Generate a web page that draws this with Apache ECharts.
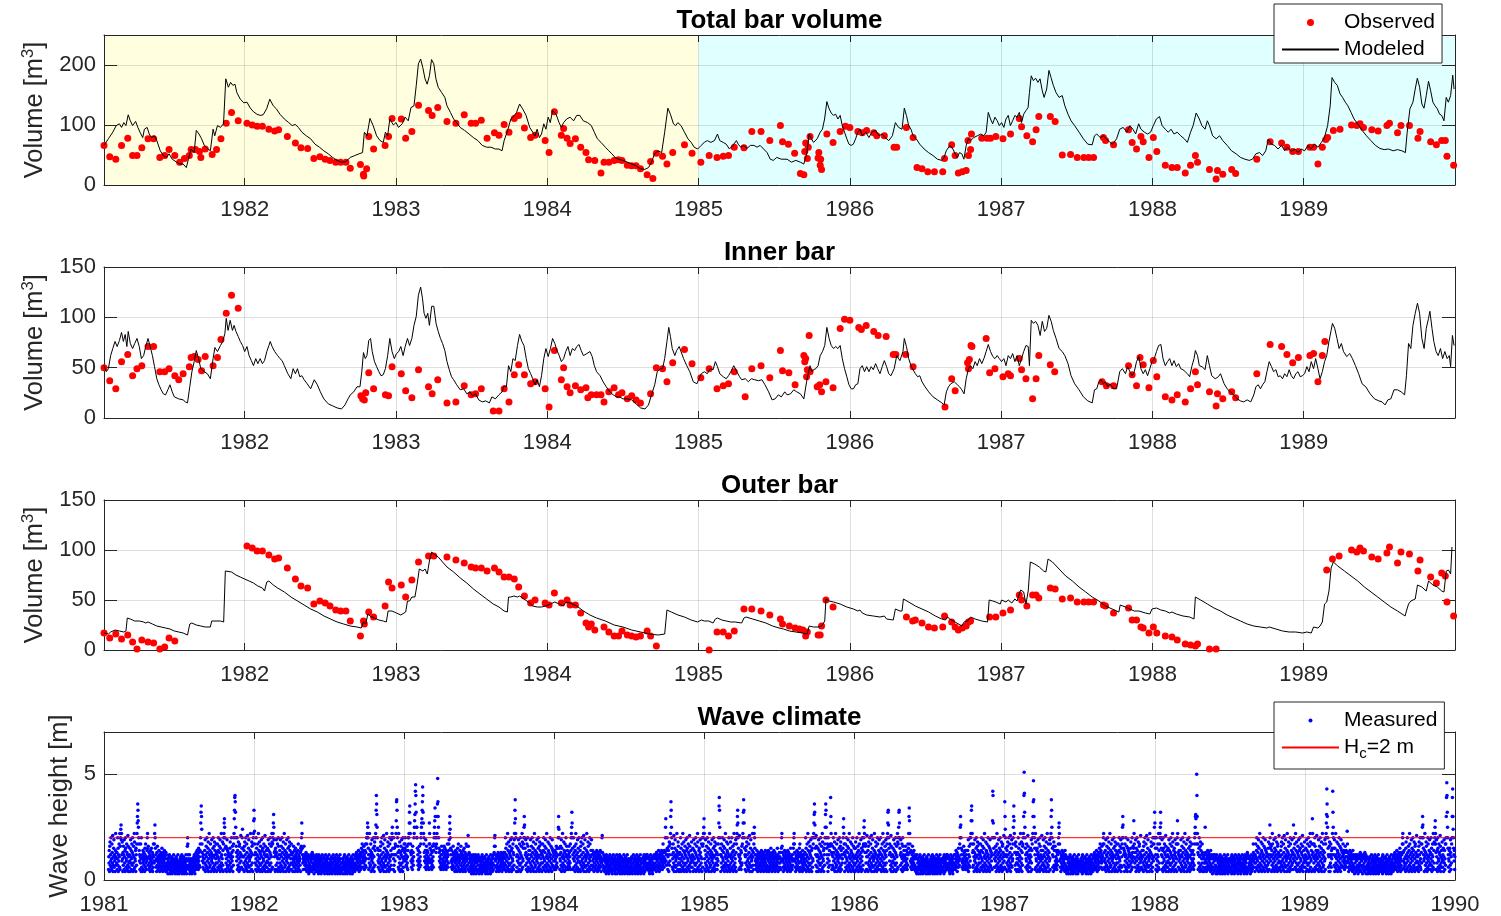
<!DOCTYPE html>
<html>
<head>
<meta charset="utf-8">
<title>Bar volumes and wave climate 1981-1990</title>
<script src="https://cdn.jsdelivr.net/npm/echarts@6/dist/echarts.min.js"></script>
<style>
html,body{margin:0;padding:0;background:#fff}
#chart{width:1501px;height:916px}
</style>
</head>
<body>
<div id="chart"></div>
<script>
// ---------- time axis ticks ----------
const barYearTicks = [1982, 1983, 1984, 1985, 1986, 1987, 1988, 1989];
const waveYearTicks = [1981, 1982, 1983, 1984, 1985, 1986, 1987, 1988, 1989, 1990];
const volumeTicks250 = [0, 100, 200];
const volumeTicks150 = [0, 50, 100, 150];
const waveTicks = [0, 5];
const criticalHeight = 2;

// ---------- total bar volume [year, m3] ----------
const totalObserved = [
[1981.070,66],[1981.108,47],[1981.148,43],[1981.186,66],[1981.227,78],[1981.259,49],[1981.288,49],[1981.320,62],[1981.361,77],[1981.398,77],
[1981.439,46],[1981.471,49],[1981.500,59],[1981.538,49],[1981.570,38],[1981.602,44],[1981.634,49],[1981.646,59],[1981.675,59],[1981.701,56],
[1981.710,46],[1981.739,60],[1981.785,51],[1981.814,59],[1981.843,77],[1981.878,103],[1981.913,121],[1981.957,107],[1982.015,103],[1982.050,100],
[1982.082,98],[1982.117,98],[1982.160,93],[1982.198,90],[1982.224,92],[1982.282,81],[1982.335,70],[1982.372,62],[1982.416,61],[1982.457,44],
[1982.497,47],[1982.532,43],[1982.564,41],[1982.602,38],[1982.634,38],[1982.669,38],[1982.698,28],[1982.765,34],[1982.785,18],[1982.787,15],
[1982.806,27],[1982.820,81],[1982.852,60],[1982.928,66],[1982.951,81],[1982.974,111],[1983.035,110],[1983.064,78],[1983.105,89],[1983.149,133],
[1983.215,124],[1983.239,116],[1983.276,129],[1983.337,106],[1983.396,103],[1983.451,117],[1983.497,103],[1983.526,103],[1983.564,108],[1983.602,78],
[1983.651,87],[1983.681,83],[1983.715,101],[1983.747,88],[1983.782,111],[1983.811,116],[1983.849,95],[1983.890,79],[1983.919,83],[1983.986,74],
[1984.012,54],[1984.047,122],[1984.093,83],[1984.108,94],[1984.131,78],[1984.151,69],[1984.186,77],[1984.221,63],[1984.256,54],[1984.273,42],
[1984.314,41],[1984.355,20],[1984.375,38],[1984.407,38],[1984.442,41],[1984.471,42],[1984.494,41],[1984.529,33],[1984.558,32],[1984.587,32],
[1984.616,27],[1984.660,17],[1984.683,39],[1984.698,11],[1984.721,53],[1984.762,48],[1984.791,35],[1984.829,54],[1984.907,67],[1984.957,53],
[1985.015,38],[1985.070,49],[1985.122,46],[1985.163,48],[1985.198,49],[1985.236,63],[1985.300,62],[1985.352,89],[1985.413,89],[1985.471,74],
[1985.541,99],[1985.555,72],[1985.594,68],[1985.635,53],[1985.673,19],[1985.696,17],[1985.702,56],[1985.708,70],[1985.719,44],[1985.725,63],
[1985.737,81],[1985.790,45],[1985.795,54],[1985.804,33],[1985.807,43],[1985.813,26],[1985.848,85],[1985.889,71],[1985.936,89],[1985.971,98],
[1986.000,96],[1986.053,89],[1986.082,87],[1986.111,91],[1986.158,87],[1986.178,82],[1986.228,82],[1986.292,63],[1986.310,63],[1986.374,96],
[1986.418,79],[1986.444,29],[1986.477,27],[1986.515,22],[1986.559,22],[1986.614,22],[1986.626,44],[1986.673,67],[1986.696,49],[1986.717,20],
[1986.743,22],[1986.769,24],[1986.781,74],[1986.784,49],[1986.798,59],[1986.804,85],[1986.872,78],[1986.907,78],[1986.930,78],[1986.965,81],
[1987.012,77],[1987.062,85],[1987.120,111],[1987.135,97],[1987.170,82],[1987.208,72],[1987.231,92],[1987.249,114],[1987.325,114],[1987.357,106],
[1987.404,50],[1987.459,51],[1987.503,46],[1987.547,46],[1987.579,46],[1987.611,46],[1987.676,79],[1987.690,74],[1987.743,67],[1987.842,92],
[1987.866,71],[1987.895,60],[1987.924,81],[1987.939,72],[1987.977,46],[1988.006,79],[1988.029,56],[1988.085,33],[1988.129,29],[1988.164,29],
[1988.217,20],[1988.252,33],[1988.284,49],[1988.298,38],[1988.377,26],[1988.421,10],[1988.430,24],[1988.465,18],[1988.524,26],[1988.550,19],
[1988.690,43],[1988.778,72],[1988.854,70],[1988.889,63],[1988.927,56],[1988.965,56],[1989.041,63],[1989.065,63],[1989.094,35],[1989.123,63],
[1989.146,76],[1989.158,79],[1989.196,91],[1989.240,93],[1989.316,100],[1989.351,99],[1989.372,102],[1989.395,96],[1989.450,92],[1989.492,90],
[1989.550,99],[1989.567,103],[1989.620,87],[1989.643,99],[1989.699,99],[1989.755,78],[1989.769,89],[1989.839,72],[1989.877,67],[1989.912,74],
[1989.936,74],[1989.947,48],[1989.991,33]
];
const totalModeled = [
[1981.070,66],[1981.099,77],[1981.128,88],[1981.151,99],[1981.172,102],[1981.186,96],[1981.201,104],[1981.215,99],[1981.230,117],[1981.244,107],
[1981.259,99],[1981.279,106],[1981.294,96],[1981.308,88],[1981.326,79],[1981.337,93],[1981.355,96],[1981.369,85],[1981.384,79],[1981.404,82],
[1981.419,74],[1981.442,57],[1981.462,49],[1981.483,46],[1981.500,52],[1981.521,43],[1981.550,38],[1981.570,35],[1981.593,35],[1981.614,29],
[1981.628,43],[1981.646,60],[1981.666,54],[1981.680,91],[1981.698,85],[1981.715,77],[1981.733,66],[1981.753,61],[1981.773,57],[1981.791,93],
[1981.802,82],[1981.820,99],[1981.840,96],[1981.860,102],[1981.875,177],[1981.892,163],[1981.907,171],[1981.922,166],[1981.936,168],[1981.948,154],
[1981.971,143],[1981.994,137],[1982.015,138],[1982.035,129],[1982.058,122],[1982.081,118],[1982.102,116],[1982.122,117],[1982.145,127],[1982.166,143],
[1982.189,132],[1982.209,127],[1982.233,118],[1982.262,110],[1982.291,104],[1982.314,99],[1982.334,101],[1982.355,96],[1982.378,88],[1982.407,82],
[1982.436,77],[1982.465,68],[1982.494,63],[1982.523,57],[1982.552,52],[1982.581,46],[1982.610,41],[1982.640,38],[1982.669,39],[1982.698,46],
[1982.727,49],[1982.756,52],[1982.779,54],[1982.791,88],[1982.808,82],[1982.828,111],[1982.849,99],[1982.872,82],[1982.895,74],[1982.916,71],
[1982.930,88],[1982.945,82],[1982.959,110],[1982.983,100],[1983.000,104],[1983.017,96],[1983.041,102],[1983.061,113],[1983.081,107],[1983.099,129],
[1983.119,132],[1983.134,166],[1983.148,202],[1983.163,210],[1983.177,196],[1983.192,177],[1983.206,168],[1983.221,182],[1983.235,209],[1983.250,202],
[1983.264,177],[1983.279,163],[1983.302,154],[1983.323,146],[1983.337,132],[1983.360,121],[1983.381,110],[1983.401,104],[1983.424,96],[1983.453,91],
[1983.483,85],[1983.512,79],[1983.541,74],[1983.570,66],[1983.599,63],[1983.628,63],[1983.657,60],[1983.680,60],[1983.701,57],[1983.715,74],
[1983.738,91],[1983.759,110],[1983.773,113],[1983.797,121],[1983.817,135],[1983.837,127],[1983.860,116],[1983.884,96],[1983.904,88],[1983.919,82],
[1983.933,93],[1983.948,79],[1983.962,85],[1983.977,102],[1983.991,93],[1984.006,113],[1984.020,104],[1984.035,124],[1984.058,118],[1984.078,104],
[1984.093,96],[1984.108,104],[1984.128,110],[1984.151,113],[1984.174,107],[1984.195,116],[1984.215,116],[1984.238,107],[1984.267,104],[1984.291,99],
[1984.311,88],[1984.331,77],[1984.355,71],[1984.384,63],[1984.407,57],[1984.427,52],[1984.448,46],[1984.471,43],[1984.500,41],[1984.529,38],
[1984.558,35],[1984.587,32],[1984.616,27],[1984.645,26],[1984.669,29],[1984.689,38],[1984.709,52],[1984.733,57],[1984.756,54],[1984.776,88],
[1984.797,128],[1984.814,118],[1984.834,102],[1984.849,99],[1984.863,104],[1984.884,99],[1984.907,88],[1984.930,77],[1984.951,71],[1984.971,63],
[1984.994,60],[1985.017,66],[1985.038,71],[1985.058,74],[1985.081,71],[1985.105,74],[1985.125,85],[1985.140,74],[1985.163,71],[1985.183,68],
[1985.204,60],[1985.227,66],[1985.250,74],[1985.262,68],[1985.279,63],[1985.299,66],[1985.320,61],[1985.343,66],[1985.366,66],[1985.387,63],
[1985.407,66],[1985.430,60],[1985.453,54],[1985.474,43],[1985.494,41],[1985.517,46],[1985.547,43],[1985.556,41],[1985.585,43],[1985.614,38],
[1985.643,41],[1985.673,38],[1985.696,35],[1985.716,54],[1985.731,85],[1985.746,77],[1985.760,71],[1985.784,77],[1985.804,88],[1985.819,93],
[1985.833,110],[1985.848,139],[1985.863,127],[1985.877,120],[1985.892,116],[1985.906,118],[1985.921,110],[1985.936,116],[1985.950,99],[1985.965,88],
[1985.980,77],[1985.994,68],[1986.009,66],[1986.023,68],[1986.038,77],[1986.053,88],[1986.067,93],[1986.082,82],[1986.105,88],[1986.126,79],
[1986.146,88],[1986.170,91],[1986.193,82],[1986.213,85],[1986.234,79],[1986.257,74],[1986.281,82],[1986.301,104],[1986.322,96],[1986.345,93],
[1986.360,128],[1986.374,116],[1986.389,99],[1986.404,93],[1986.418,82],[1986.439,77],[1986.462,68],[1986.491,60],[1986.520,54],[1986.550,49],
[1986.579,43],[1986.608,41],[1986.623,46],[1986.637,57],[1986.661,66],[1986.681,60],[1986.696,52],[1986.710,46],[1986.725,54],[1986.740,52],
[1986.754,43],[1986.769,66],[1986.784,77],[1986.798,74],[1986.819,79],[1986.842,82],[1986.866,85],[1986.886,82],[1986.901,88],[1986.915,121],
[1986.930,110],[1986.944,102],[1986.959,113],[1986.974,107],[1986.988,99],[1987.003,104],[1987.018,96],[1987.032,110],[1987.047,116],[1987.061,99],
[1987.076,107],[1987.091,116],[1987.105,113],[1987.120,121],[1987.135,104],[1987.149,118],[1987.164,124],[1987.178,129],[1987.187,154],[1987.199,182],
[1987.213,174],[1987.228,178],[1987.243,171],[1987.257,177],[1987.272,157],[1987.284,146],[1987.301,160],[1987.316,191],[1987.330,179],[1987.345,166],
[1987.363,154],[1987.383,146],[1987.404,149],[1987.421,132],[1987.442,118],[1987.462,107],[1987.486,99],[1987.515,88],[1987.544,77],[1987.573,68],
[1987.602,67],[1987.617,82],[1987.632,85],[1987.655,79],[1987.675,82],[1987.696,77],[1987.719,71],[1987.737,68],[1987.763,77],[1987.784,93],
[1987.807,96],[1987.830,88],[1987.851,99],[1987.871,93],[1987.889,85],[1987.909,102],[1987.924,93],[1987.947,88],[1987.968,85],[1987.988,88],
[1988.006,99],[1988.026,110],[1988.047,114],[1988.064,99],[1988.085,93],[1988.105,88],[1988.123,93],[1988.143,85],[1988.164,88],[1988.187,82],
[1988.211,77],[1988.231,71],[1988.252,88],[1988.269,99],[1988.289,120],[1988.310,110],[1988.327,99],[1988.348,93],[1988.363,107],[1988.377,99],
[1988.398,82],[1988.421,77],[1988.444,82],[1988.465,74],[1988.494,66],[1988.523,57],[1988.553,52],[1988.582,46],[1988.611,43],[1988.640,41],
[1988.661,43],[1988.684,52],[1988.708,54],[1988.728,49],[1988.749,57],[1988.766,76],[1988.787,68],[1988.807,66],[1988.830,60],[1988.854,66],
[1988.874,57],[1988.895,63],[1988.918,56],[1988.941,60],[1988.962,54],[1988.982,60],[1989.006,57],[1989.029,66],[1989.050,60],[1989.070,68],
[1989.094,63],[1989.117,71],[1989.137,79],[1989.158,99],[1989.175,132],[1989.187,179],[1989.205,171],[1989.222,166],[1989.240,152],[1989.257,146],
[1989.275,138],[1989.292,132],[1989.313,121],[1989.333,110],[1989.357,102],[1989.386,91],[1989.415,82],[1989.444,74],[1989.474,66],[1989.503,61],
[1989.532,59],[1989.561,60],[1989.591,57],[1989.620,59],[1989.649,57],[1989.672,54],[1989.684,88],[1989.702,127],[1989.722,138],[1989.737,160],
[1989.751,178],[1989.766,163],[1989.781,135],[1989.795,128],[1989.810,149],[1989.825,173],[1989.839,157],[1989.854,138],[1989.868,132],[1989.883,127],
[1989.898,118],[1989.912,116],[1989.927,107],[1989.942,146],[1989.956,138],[1989.971,149],[1989.985,183],[1989.994,160]
];

// ---------- inner bar volume [year, m3] ----------
const innerObserved = [
[1981.070,50],[1981.108,37],[1981.148,29],[1981.186,56],[1981.227,63],[1981.259,42],[1981.288,49],[1981.320,52],[1981.361,71],[1981.398,71],
[1981.439,46],[1981.471,46],[1981.500,49],[1981.538,42],[1981.564,38],[1981.593,44],[1981.634,51],[1981.646,60],[1981.666,61],[1981.692,58],
[1981.715,47],[1981.739,61],[1981.791,52],[1981.820,60],[1981.843,78],[1981.878,104],[1981.913,122],[1981.957,109],
[1982.768,22],[1982.779,19],[1982.791,18],[1982.800,25],[1982.820,45],[1982.852,29],[1982.930,23],[1982.951,22],[1982.974,51],[1983.035,44],
[1983.064,27],[1983.105,20],[1983.149,48],[1983.215,31],[1983.239,24],[1983.276,38],[1983.337,15],[1983.396,16],[1983.451,32],[1983.497,23],
[1983.526,24],[1983.564,29],[1983.643,7],[1983.681,7],[1983.715,29],[1983.747,16],[1983.782,43],[1983.811,53],[1983.849,43],[1983.890,34],
[1983.919,36],[1983.986,29],[1984.012,11],[1984.047,67],[1984.093,38],[1984.108,50],[1984.131,31],[1984.151,25],[1984.186,32],[1984.221,28],
[1984.256,30],[1984.268,20],[1984.291,23],[1984.326,23],[1984.355,23],[1984.375,16],[1984.407,26],[1984.442,30],[1984.471,23],[1984.494,25],
[1984.529,19],[1984.558,22],[1984.587,18],[1984.616,15],[1984.683,24],[1984.721,50],[1984.762,49],[1984.791,36],[1984.829,55],[1984.907,68],
[1984.957,54],[1985.015,40],[1985.070,49],[1985.122,29],[1985.163,32],[1985.198,34],[1985.236,46],[1985.308,21],[1985.352,49],[1985.413,52],
[1985.471,40],[1985.541,67],[1985.555,47],[1985.597,45],[1985.638,33],[1985.696,62],[1985.702,56],[1985.708,59],[1985.714,41],[1985.719,48],
[1985.731,82],[1985.737,46],[1985.784,31],[1985.801,33],[1985.813,26],[1985.842,36],[1985.889,30],[1985.936,89],[1985.965,98],[1986.000,97],
[1986.059,90],[1986.076,88],[1986.108,92],[1986.158,86],[1986.187,82],[1986.240,81],[1986.287,63],[1986.304,63],[1986.369,63],[1986.418,51],
[1986.629,11],[1986.673,39],[1986.696,27],[1986.778,55],[1986.784,49],[1986.790,58],[1986.801,72],[1986.807,71],[1986.901,79],[1986.924,45],
[1986.959,49],[1987.012,41],[1987.047,44],[1987.062,42],[1987.120,59],[1987.135,48],[1987.164,39],[1987.208,19],[1987.231,39],[1987.249,62],
[1987.325,53],[1987.354,46],[1987.667,36],[1987.696,32],[1987.743,32],[1987.842,52],[1987.866,43],[1987.895,32],[1987.918,60],[1987.939,53],
[1987.977,30],[1988.006,57],[1988.029,41],[1988.085,21],[1988.129,18],[1988.164,23],[1988.217,16],[1988.252,29],[1988.284,46],[1988.298,33],
[1988.377,26],[1988.421,12],[1988.430,24],[1988.465,19],[1988.524,26],[1988.550,20],[1988.690,44],[1988.778,73],[1988.854,71],[1988.889,63],
[1988.927,55],[1988.965,60],[1989.041,62],[1989.065,64],[1989.094,36],[1989.123,62],[1989.140,76]
];
const innerModeled = [
[1981.070,52],[1981.085,46],[1981.099,49],[1981.114,62],[1981.128,69],[1981.143,76],[1981.157,71],[1981.172,77],[1981.186,85],[1981.198,76],
[1981.210,83],[1981.221,71],[1981.230,86],[1981.244,74],[1981.259,69],[1981.273,74],[1981.288,79],[1981.303,71],[1981.317,59],[1981.332,62],
[1981.346,71],[1981.361,79],[1981.375,71],[1981.390,62],[1981.404,51],[1981.419,39],[1981.433,33],[1981.448,28],[1981.462,24],[1981.477,23],
[1981.492,28],[1981.506,33],[1981.521,26],[1981.535,21],[1981.564,19],[1981.593,18],[1981.608,16],[1981.622,15],[1981.637,31],[1981.651,46],
[1981.666,56],[1981.680,67],[1981.695,59],[1981.710,49],[1981.733,46],[1981.753,44],[1981.773,39],[1981.791,59],[1981.803,70],[1981.820,66],
[1981.840,72],[1981.855,76],[1981.869,84],[1981.878,99],[1981.890,87],[1981.904,97],[1981.919,87],[1981.930,92],[1981.942,86],[1981.957,81],
[1981.971,76],[1981.986,72],[1982.000,66],[1982.015,71],[1982.029,62],[1982.044,57],[1982.058,52],[1982.073,59],[1982.087,54],[1982.102,59],
[1982.117,54],[1982.131,57],[1982.146,66],[1982.160,72],[1982.169,76],[1982.181,71],[1982.198,66],[1982.218,62],[1982.233,59],[1982.247,57],
[1982.262,52],[1982.285,44],[1982.305,39],[1982.320,49],[1982.335,44],[1982.349,49],[1982.364,41],[1982.378,42],[1982.393,38],[1982.413,34],
[1982.436,29],[1982.460,38],[1982.480,33],[1982.500,26],[1982.523,19],[1982.553,14],[1982.582,12],[1982.611,10],[1982.640,9],[1982.663,13],
[1982.683,19],[1982.698,23],[1982.721,26],[1982.742,31],[1982.762,31],[1982.774,46],[1982.785,65],[1982.797,59],[1982.808,62],[1982.820,77],
[1982.832,79],[1982.843,66],[1982.858,56],[1982.872,51],[1982.887,46],[1982.901,42],[1982.916,43],[1982.930,49],[1982.945,62],[1982.959,79],
[1982.974,66],[1982.989,59],[1983.003,64],[1983.018,66],[1983.032,71],[1983.047,62],[1983.061,71],[1983.076,79],[1983.090,72],[1983.105,79],
[1983.119,92],[1983.134,101],[1983.148,122],[1983.163,130],[1983.175,119],[1983.186,104],[1983.198,99],[1983.210,104],[1983.221,92],[1983.236,111],
[1983.250,111],[1983.265,94],[1983.279,86],[1983.294,79],[1983.308,74],[1983.323,67],[1983.337,56],[1983.352,48],[1983.367,41],[1983.381,38],
[1983.401,33],[1983.425,28],[1983.448,29],[1983.468,24],[1983.489,26],[1983.506,22],[1983.526,24],[1983.547,18],[1983.570,16],[1983.593,17],
[1983.617,15],[1983.634,21],[1983.657,19],[1983.680,23],[1983.701,26],[1983.715,32],[1983.730,31],[1983.744,52],[1983.759,46],[1983.773,59],
[1983.788,57],[1983.803,72],[1983.817,83],[1983.832,76],[1983.846,72],[1983.861,59],[1983.875,49],[1983.890,44],[1983.904,39],[1983.919,33],
[1983.933,38],[1983.948,31],[1983.962,42],[1983.977,59],[1983.991,69],[1984.006,61],[1984.021,69],[1984.035,79],[1984.050,74],[1984.064,67],
[1984.079,62],[1984.093,56],[1984.108,59],[1984.122,66],[1984.137,71],[1984.151,62],[1984.166,69],[1984.181,67],[1984.195,71],[1984.210,73],
[1984.224,67],[1984.239,62],[1984.262,64],[1984.282,66],[1984.297,61],[1984.311,52],[1984.326,46],[1984.349,42],[1984.369,36],[1984.390,31],
[1984.413,26],[1984.436,23],[1984.457,21],[1984.477,21],[1984.500,19],[1984.529,19],[1984.558,18],[1984.587,14],[1984.617,10],[1984.646,9],
[1984.669,13],[1984.689,23],[1984.710,33],[1984.727,46],[1984.747,49],[1984.762,49],[1984.776,59],[1984.791,76],[1984.803,90],[1984.814,81],
[1984.826,69],[1984.843,62],[1984.855,67],[1984.872,71],[1984.884,66],[1984.901,59],[1984.922,52],[1984.942,46],[1984.965,36],[1984.989,34],
[1985.000,38],[1985.018,44],[1985.038,46],[1985.058,44],[1985.076,49],[1985.096,48],[1985.111,56],[1985.125,51],[1985.140,44],[1985.163,41],
[1985.183,39],[1985.198,42],[1985.213,46],[1985.233,52],[1985.253,46],[1985.271,41],[1985.285,38],[1985.309,39],[1985.329,36],[1985.349,39],
[1985.372,38],[1985.396,37],[1985.419,38],[1985.439,33],[1985.463,26],[1985.486,18],[1985.506,19],[1985.527,23],[1985.547,21],[1985.570,26],
[1985.585,23],[1985.608,24],[1985.629,28],[1985.649,26],[1985.673,24],[1985.696,19],[1985.714,36],[1985.725,44],[1985.737,52],[1985.749,46],
[1985.760,48],[1985.775,49],[1985.790,52],[1985.804,62],[1985.819,66],[1985.834,72],[1985.848,90],[1985.863,79],[1985.877,72],[1985.892,69],
[1985.907,71],[1985.921,69],[1985.936,72],[1985.950,59],[1985.965,49],[1985.980,41],[1985.994,33],[1986.009,29],[1986.024,29],[1986.038,33],
[1986.053,34],[1986.067,49],[1986.082,52],[1986.097,46],[1986.111,51],[1986.126,46],[1986.141,51],[1986.155,48],[1986.170,54],[1986.184,49],
[1986.199,44],[1986.214,51],[1986.228,57],[1986.243,51],[1986.257,44],[1986.272,42],[1986.293,49],[1986.310,62],[1986.331,57],[1986.351,66],
[1986.360,79],[1986.374,71],[1986.389,59],[1986.404,52],[1986.418,48],[1986.433,44],[1986.448,41],[1986.462,42],[1986.477,36],[1986.497,31],
[1986.521,26],[1986.550,21],[1986.579,18],[1986.608,15],[1986.623,13],[1986.638,26],[1986.652,31],[1986.667,34],[1986.690,36],[1986.711,33],
[1986.725,31],[1986.740,28],[1986.755,24],[1986.769,39],[1986.784,49],[1986.798,52],[1986.813,49],[1986.828,56],[1986.842,52],[1986.857,59],
[1986.872,54],[1986.886,59],[1986.901,66],[1986.915,73],[1986.930,66],[1986.945,61],[1986.959,59],[1986.974,62],[1986.988,59],[1987.003,56],
[1987.018,59],[1987.032,52],[1987.047,62],[1987.062,59],[1987.076,64],[1987.091,56],[1987.105,62],[1987.120,52],[1987.135,59],[1987.149,66],
[1987.164,72],[1987.179,71],[1987.187,52],[1987.199,97],[1987.214,94],[1987.228,96],[1987.243,92],[1987.258,82],[1987.272,96],[1987.287,86],
[1987.301,89],[1987.316,102],[1987.331,96],[1987.345,87],[1987.363,79],[1987.383,69],[1987.404,66],[1987.421,62],[1987.442,54],[1987.462,42],
[1987.486,34],[1987.515,28],[1987.544,21],[1987.573,17],[1987.602,15],[1987.617,28],[1987.632,29],[1987.646,36],[1987.661,38],[1987.676,34],
[1987.690,36],[1987.705,31],[1987.719,34],[1987.743,29],[1987.763,29],[1987.784,46],[1987.801,49],[1987.822,44],[1987.836,51],[1987.851,46],
[1987.866,42],[1987.880,46],[1987.895,56],[1987.910,61],[1987.924,49],[1987.939,44],[1987.953,48],[1987.968,42],[1987.983,49],[1987.997,56],
[1988.012,59],[1988.027,66],[1988.041,72],[1988.056,73],[1988.070,59],[1988.085,52],[1988.100,56],[1988.114,59],[1988.129,52],[1988.143,57],
[1988.158,51],[1988.173,54],[1988.187,49],[1988.202,48],[1988.217,46],[1988.231,44],[1988.246,41],[1988.260,51],[1988.275,59],[1988.284,67],
[1988.298,62],[1988.310,52],[1988.328,51],[1988.348,48],[1988.363,62],[1988.377,52],[1988.392,42],[1988.415,39],[1988.436,41],[1988.450,44],
[1988.474,34],[1988.494,29],[1988.515,26],[1988.538,23],[1988.561,19],[1988.582,17],[1988.603,16],[1988.626,18],[1988.650,16],[1988.670,23],
[1988.684,31],[1988.699,33],[1988.714,29],[1988.728,33],[1988.743,36],[1988.757,46],[1988.772,56],[1988.787,51],[1988.801,46],[1988.816,48],
[1988.831,41],[1988.845,42],[1988.860,39],[1988.874,44],[1988.889,41],[1988.904,48],[1988.918,42],[1988.933,39],[1988.948,44],[1988.962,46],
[1988.977,41],[1988.991,42],[1989.006,44],[1989.021,51],[1989.035,46],[1989.050,56],[1989.065,49],[1989.079,59],[1989.094,49],[1989.108,39],
[1989.123,46],[1989.138,56],[1989.152,62],[1989.167,76],[1989.181,87],[1989.190,94],[1989.205,89],[1989.220,79],[1989.234,69],[1989.249,74],
[1989.263,66],[1989.284,61],[1989.304,64],[1989.322,59],[1989.342,52],[1989.363,44],[1989.386,34],[1989.410,31],[1989.439,24],[1989.468,19],
[1989.497,17],[1989.518,16],[1989.538,13],[1989.556,18],[1989.576,19],[1989.597,28],[1989.620,28],[1989.644,26],[1989.667,23],[1989.679,42],
[1989.693,74],[1989.708,69],[1989.722,92],[1989.737,104],[1989.752,114],[1989.766,104],[1989.781,79],[1989.796,69],[1989.810,89],[1989.825,99],
[1989.834,106],[1989.848,89],[1989.860,76],[1989.875,66],[1989.889,62],[1989.904,69],[1989.918,59],[1989.933,66],[1989.948,59],[1989.962,62],
[1989.971,51],[1989.983,82],[1989.994,72]
];

// ---------- outer bar volume [year, m3] ----------
const outerObserved = [
[1981.070,17],[1981.108,12],[1981.148,16],[1981.186,11],[1981.227,15],[1981.259,8],[1981.288,1],[1981.320,10],[1981.361,8],[1981.398,7],
[1981.439,1],[1981.471,3],[1981.500,12],[1981.538,9],
[1982.015,104],[1982.050,102],[1982.082,99],[1982.117,99],[1982.160,95],[1982.198,91],[1982.224,92],[1982.282,82],[1982.335,71],[1982.372,64],
[1982.416,62],[1982.457,46],[1982.497,49],[1982.532,47],[1982.564,44],[1982.602,40],[1982.634,39],[1982.669,39],[1982.698,29],[1982.765,14],
[1982.785,29],[1982.791,26],[1982.820,38],[1982.852,33],[1982.928,44],[1982.951,68],[1982.974,62],[1983.035,65],[1983.064,53],[1983.105,70],
[1983.149,88],[1983.215,94],[1983.250,94],[1983.337,93],[1983.396,90],[1983.451,87],[1983.497,83],[1983.526,82],[1983.564,82],[1983.602,79],
[1983.651,82],[1983.681,78],[1983.715,73],[1983.747,73],[1983.782,71],[1983.811,63],[1983.849,54],[1983.890,47],[1983.919,50],[1983.986,47],
[1984.012,45],[1984.047,57],[1984.093,47],[1984.131,50],[1984.151,45],[1984.186,45],[1984.221,37],[1984.256,27],[1984.273,23],[1984.291,26],
[1984.314,20],[1984.375,23],[1984.407,18],[1984.442,14],[1984.471,14],[1984.494,19],[1984.529,15],[1984.558,14],[1984.587,13],[1984.616,14],
[1984.660,19],[1984.683,14],[1984.721,4],
[1985.070,0],[1985.122,18],[1985.163,18],[1985.198,14],[1985.236,19],[1985.300,41],[1985.352,41],[1985.413,39],[1985.471,35],[1985.541,31],
[1985.555,26],[1985.600,24],[1985.638,22],[1985.667,21],[1985.690,20],[1985.708,14],[1985.719,18],[1985.790,15],[1985.804,15],[1985.813,24],
[1985.842,50],[1985.889,43],[1986.374,33],[1986.415,29],[1986.433,30],[1986.477,27],[1986.520,23],[1986.559,22],[1986.614,23],[1986.626,34],
[1986.673,28],[1986.696,23],[1986.717,20],[1986.743,22],[1986.769,24],[1986.784,28],[1986.798,29],[1986.924,33],[1986.965,33],[1987.012,37],
[1987.062,40],[1987.120,55],[1987.135,50],[1987.170,44],[1987.208,55],[1987.231,55],[1987.249,52],[1987.325,62],[1987.357,61],[1987.404,51],
[1987.459,52],[1987.503,48],[1987.547,48],[1987.579,48],[1987.611,48],[1987.676,45],[1987.690,44],[1987.743,37],[1987.842,42],[1987.866,30],
[1987.895,30],[1987.924,23],[1987.939,22],[1987.977,17],[1988.006,23],[1988.029,17],[1988.085,14],[1988.129,13],[1988.164,10],[1988.217,6],
[1988.252,5],[1988.284,4],[1988.298,6],[1988.377,1],[1988.421,1],
[1989.152,80],[1989.190,91],[1989.234,94],[1989.316,100],[1989.351,98],[1989.372,102],[1989.395,99],[1989.450,93],[1989.492,91],[1989.550,97],
[1989.567,103],[1989.620,87],[1989.643,98],[1989.699,96],[1989.755,79],[1989.769,90],[1989.839,73],[1989.877,67],[1989.912,77],[1989.936,74],
[1989.947,48],[1989.991,34]
];
const outerModeled = [
[1981.070,17],[1981.099,16],[1981.114,18],[1981.143,20],[1981.172,19],[1981.201,18],[1981.215,19],[1981.224,32],[1981.244,31],[1981.273,29],
[1981.303,29],[1981.332,28],[1981.346,27],[1981.361,28],[1981.390,26],[1981.419,24],[1981.448,23],[1981.477,22],[1981.506,21],[1981.535,19],
[1981.564,18],[1981.593,17],[1981.622,15],[1981.637,26],[1981.651,27],[1981.680,25],[1981.710,24],[1981.739,23],[1981.773,23],[1981.782,29],
[1981.811,29],[1981.840,29],[1981.861,28],[1981.872,79],[1981.884,80],[1981.913,78],[1981.942,75],[1981.971,73],[1982.000,71],[1982.029,69],
[1982.058,67],[1982.087,64],[1982.117,62],[1982.131,59],[1982.146,68],[1982.160,69],[1982.189,65],[1982.218,62],[1982.262,58],[1982.306,53],
[1982.349,49],[1982.393,45],[1982.436,41],[1982.480,38],[1982.524,34],[1982.567,31],[1982.611,28],[1982.654,26],[1982.698,24],[1982.742,23],
[1982.771,22],[1982.785,28],[1982.800,26],[1982.814,36],[1982.829,34],[1982.858,32],[1982.887,30],[1982.916,29],[1982.936,28],[1982.948,39],
[1982.974,39],[1983.003,37],[1983.032,35],[1983.064,38],[1983.076,49],[1983.090,49],[1983.105,53],[1983.125,53],[1983.140,66],[1983.154,81],
[1983.178,79],[1983.192,81],[1983.207,76],[1983.221,89],[1983.236,98],[1983.250,96],[1983.279,93],[1983.308,88],[1983.337,83],[1983.381,78],
[1983.425,72],[1983.468,67],[1983.512,61],[1983.555,56],[1983.599,51],[1983.643,46],[1983.681,43],[1983.715,39],[1983.736,38],[1983.744,53],
[1983.759,53],[1983.779,54],[1983.803,53],[1983.817,54],[1983.846,51],[1983.875,48],[1983.904,44],[1983.933,43],[1983.962,43],[1983.991,44],
[1984.021,46],[1984.050,48],[1984.079,46],[1984.108,44],[1984.122,48],[1984.151,47],[1984.195,44],[1984.239,39],[1984.282,35],[1984.326,32],
[1984.384,29],[1984.442,25],[1984.500,23],[1984.558,20],[1984.617,18],[1984.675,16],[1984.733,15],[1984.776,16],[1984.791,40],[1984.820,38],
[1984.864,35],[1984.907,33],[1984.951,30],[1984.994,28],[1985.018,30],[1985.038,29],[1985.067,29],[1985.096,27],[1985.111,31],[1985.125,32],
[1985.154,30],[1985.183,29],[1985.213,28],[1985.242,28],[1985.285,27],[1985.300,32],[1985.314,33],[1985.358,31],[1985.401,29],[1985.445,27],
[1985.489,24],[1985.532,22],[1985.561,21],[1985.600,19],[1985.643,18],[1985.687,17],[1985.717,16],[1985.731,24],[1985.760,23],[1985.790,23],
[1985.813,24],[1985.834,29],[1985.842,51],[1985.863,49],[1985.892,48],[1985.936,46],[1985.980,43],[1986.024,41],[1986.053,39],[1986.067,40],
[1986.082,37],[1986.111,35],[1986.155,34],[1986.199,33],[1986.228,34],[1986.243,31],[1986.287,30],[1986.301,41],[1986.331,39],[1986.345,39],
[1986.354,51],[1986.389,48],[1986.433,44],[1986.477,41],[1986.521,38],[1986.565,34],[1986.608,31],[1986.632,30],[1986.646,33],[1986.661,31],
[1986.696,28],[1986.740,24],[1986.755,28],[1986.778,29],[1986.798,33],[1986.828,31],[1986.872,29],[1986.910,28],[1986.921,50],[1986.945,49],
[1986.965,48],[1986.974,49],[1986.994,46],[1987.003,50],[1987.032,48],[1987.047,50],[1987.070,47],[1987.091,51],[1987.105,49],[1987.129,60],
[1987.149,58],[1987.164,46],[1987.179,59],[1987.193,88],[1987.222,86],[1987.252,83],[1987.281,79],[1987.296,78],[1987.310,91],[1987.339,88],
[1987.383,81],[1987.427,74],[1987.471,69],[1987.515,63],[1987.559,58],[1987.602,53],[1987.646,49],[1987.690,44],[1987.734,41],[1987.778,38],
[1987.787,45],[1987.822,43],[1987.851,41],[1987.880,39],[1987.910,39],[1987.953,37],[1987.983,36],[1987.997,41],[1988.027,42],[1988.056,40],
[1988.085,39],[1988.114,37],[1988.129,38],[1988.158,36],[1988.202,34],[1988.246,33],[1988.275,31],[1988.284,53],[1988.319,50],[1988.363,46],
[1988.407,42],[1988.450,39],[1988.494,35],[1988.538,32],[1988.582,29],[1988.626,26],[1988.670,24],[1988.714,23],[1988.757,22],[1988.772,23],
[1988.816,21],[1988.860,19],[1988.904,18],[1988.948,18],[1988.991,17],[1989.021,18],[1989.050,17],[1989.065,23],[1989.094,22],[1989.108,24],
[1989.123,28],[1989.138,46],[1989.152,48],[1989.167,59],[1989.181,82],[1989.196,88],[1989.225,84],[1989.269,79],[1989.313,74],[1989.357,69],
[1989.401,63],[1989.445,58],[1989.489,53],[1989.532,48],[1989.576,43],[1989.620,39],[1989.670,34],[1989.679,39],[1989.693,46],[1989.708,49],
[1989.737,51],[1989.752,65],[1989.781,63],[1989.810,59],[1989.825,69],[1989.854,65],[1989.883,63],[1989.912,59],[1989.927,58],[1989.942,79],
[1989.957,80],[1989.971,76],[1989.980,103]
];

// ---------- measured wave height, twelve month strings per year ----------
// each character is one reading: its index in WAVE_CODES is the height in decimetres; '.' = no record
const WAVE_CODES = '0123456789abcdefghijklmnopqrstuvwxyzABCDEFGHIJKLMNOPQRSTUVWXYZ';
const wave1981 = ['..................5b8e4gi7c9k6a5hd8l4b7fj6c9a4emb7d','8d5ak7f4c9hb6m5gkoqjmc9ia4d7gc5jb8e4kf6a9hd5c7lg4b8','6c9f4bj8e5ah7dk4c8gb5mi6a9e4fc7hmruAxspkhe9c5b8ha4k','6a4c8e5b9d7a4fc6h8b5a9ekmf7gb5d8a6c4e9b7f5a8d4c6hb9','8hmqkf9c6a4d7g9b5a8e6c4b7a9d5c8f6b4a7d9c5e8b6a4d7c','4685a3967b5c8374a6958b3a7496c5847a3968b5a7394c6857','3958a4b7695c3a8476b5939a6847c5a396gkhc7a596c3847a596','5384a6957b4c8396a5d7b9e6c8a5f9d7b6ehkrwzuohd9b6c8a5','a5e8j4c7gb6k9d5fi4a8mc6e7hb4d9ja5c8fk6b4gi7e5ca8hd','4c8hb6ek5a9gd7j4f6bm8c5ai7e4hkmrtpkfc5g8a4fj7e6bd9c5','7b4fi8c5ak6d9gb4e7hkmtxDEBwpkgd9bk5e7ci6a4gh8d5bl9c6','bfkofb5b8e4gi7c9k6a5hd8l4b7fj6c9a4emb7d5ig8c4hkmsx'];
const wave1982 = ['tnhc8d5ak7f4c9hb6m5e8ia4d7gc5jb8e4kf6a9hd5c7lg4b8e6','6c9f4bj8e5ah7dk4c8gb5mi6hkmrvpjdb5e4fc7jd5b8ha4kg6c','a5e8j4c7gb6k9d5fi4a8mc6e7hb4d9ja5c8fk6b4gi7e5ca8hd','5c8a4d7g9b6e4a8fc5b7d9a4e6h8c5b9a7d4fegkrmfc8a5b9g','c97a5b8d6c4a7b9c5a3684a7b5c9a6b4d8a5c7b3a6958b4a7c','4a6958b3c7a4968b5a3794c6a5867b4a3958c5a7694b3a8567c','6384a5967b4a3858c5a6947b3a5869c4a7385b6a4967c3a5848','4685a3967b5c8374a6958b3a7496c5847a3968b5a7394c6857','6a4b8c5a7d6b9c5a8e6c4b7a9d5c8f6bhd9e6a8gc5b9e7hd6ak','hkmrpkfc5a8mc6e7hb4d9ja5c8fk6b4gi7ekmqxEAvpkfc96e8a','5b8e4gi7c9k6a5hd8l4b7fj6c9a4emb7d5ig8c4a6kh9b5e7jc','kmpkfc5ak7f4c9hgcmsBCxpkgdb6m5e8ia4d7gc5jb8e4kf6a9h'];
const wave1983 = ['bdfhke9c7a6g8b5ekhkmrwzrmhd9c6e8a5g9d7bkmpsvAGJEwpk','pkf9c7e5a8g6d9b7hkmprtxBIEwrmhkd9b6e8ja5gc7e9d6b8a5h','rmhf9c6e8a5d7g9b6ehkmpsyukgdfhkmuAMBupkfd9b6e8a5c7g','8c6e9a5d7gb8f6c9e5a7d9hb6c8ehjmruokfc96e8a5c7g9d6b','6a4c8e5b9d7a4fc6h8b5a9e4c7gb5d8a6c4e9b7f5a8d4c6hb9','ga7c5lgc8d4a6b9c5a7384b6a5c9374a8b5c6a3958b4a7c5b93','5796a4857b3c9465a7848b5a6397c4858a3967b6a5483c7958','6a4b8c5a7dgklgc96a4b7c5a8d6b4a9c5b7a6d8c4b9a5c7d6b','8d5ak7f4c9hb6m5e8ia4d7gc5jb8e4kf6a9hd5c7jmrxCtmkg4b','6c9f4bj8e5ah7dk4c8gb5mi6a9fhkpuqkfc7jd5b8ha4kg6c9e5','a5e8j4c7gb6k9d5fi4a8mc6e7hb4d9ja5c8fk6b4gi7e5ca8hd','4c8hb6ek5a9gd7j4f6bm8c5ai7e4dh9b6kc5g8a4fj7e6bd9c5'];
const wave1984 = ['c6e9a5d7gb8f6cfkpuokfc5a9gd7j4f6bm8c5ai7e4dh9b6kc5g','b6e8a5c7g9d6b8h5ekmpwrkfc5ak6d9gb4e7mh5c8a6jd4f9bk5','5b8e4gi7c9k6a5hd8l4b7fj6c9a4emb7d5ig8c4a6kh9b5e7jc','5c7e9a6d4b8c6a5d7b9e5a4c8d6b5a7c9e6b4a8dkld97a5c6b','4a6958b3c7a4968b5a3794c6a5867b4a3958c5a7694b3a8567c','3958a4b7695c3a8476b5939a6847c5a3968b4a7596c3847a596','6384a5967b4a3858c5a6947b3a5869c4a7385b6a4967c3a5848','4a6958b3c7a4968b5acb7c6a5867b4a3958c5a7694b3a8567c6','a5b8c6a4d7b9c5a6e8b4c7a5d9b6e8c5a7hd9b6e8adkpt9c7e','kfc5b8e4gi7c9hmuBxpkfc6a5hd8l4b7fj6c9a4emb7d5ig8c4a','8d5ak7f4c9hb6m5e8ia4d7gc5jb8e4kf6a9hd5c7lg4b8e6ai9','6c9f4bj8e5ah7dk4c8gb5mi6a9e4fc7jd5b8ha4kg6hkmptm'];
const wave1985 = ['a5e8j4c7gb6k9d5fi4a8mc6e7hb4d9ja5c8fk6b4gi7e5ca8hd','5a7c9hkrzDxpkfc4c8hb6ek5a9gd7j4f6bm8c5ai7e4dh9b6kc5','7b4fi8c5ak6d9gb4e7mh5c8a6jd4hkmquxrkfc5bl9c6a8e5d7g','8hkmrwCxrkfc5b8e4gi7c9k6a5hd8l4b7fj6c9a4emb7d5hmp','kfc97a5c8e6b4a9d7c5b8a6d4c7e9b5a8c6d4b7a9c5e8b6a4d','7c5a9e6b4d8a5c7f9b6a4d8c5a7e9b6d4a8c5b7a9f6c4b8a5d','6b8d5a9fkmgd96a4c8b5e7a6d9c5b8a4e7c6d9b5a8c4f7b6a9','5c7a9fhkmhd96a4c8b5e7a6d9c5b8f4hc6d9b5a8c4e7b6a9c5','8d5ak7f4c9hb6m5e8ia4d7gc5jb8e4kf6a9hkmrvAwqkfc7lg4b','6c9f4bj8e5ah7dk4c8gb5mi6a9e4fc7hkpvAxpkfc8ha4kg6c9e','7ghrDumhd5c7gb6k9d5fi4a8mc6e7hb4d9ja5c8fk6b4gi7e5ca','8acfkptmhd4c8hb6ek5a9gd7j4f6bm8c5ai7e4dh9b6kc5g8a4f'];
const wave1986 = ['7b4fi8c5ak6d9gb4e7mh5c8a6jd4f9bk5e7ghkpsmhd4gh8d5bl','5b8e4gi7c9k6a5hd8l4b7fj6c9a4emb7d5ig8c4a6kh9b5e7jc','8d5ak7f4c9hb6m5e8ia4d7gc5jb8e4hkmrwxqkfc9hd5c7lg4b8','6c9f4bj8e5ah7dk4c8gb5mi6hkpwxrkfc7jd5b8ha4kg6c9e5b','5a7g9c6e8a5d7hcfmuysmhd96e8a5c7g9d6b8e5a7c6a4b5a3c','4685a3967b5c8374a6958b3a7496c5847a3968b5a7394c6857','3958a4b7695c3a8476b5939a6847c5a3968b4a7596c3847a596','4a6958b3c7a4968b5acb7c6a5867b4a3958c5a7694b3a8567c6','8c5a7e9b6d4a8c6f9b7ahkpuqkfc96e8a5c7g9d6b8e5a7c9e6','a5e8j4c7gb6k9hkmsxzsmhd6e7hb4d9ja5c8fk6b4gi7e5ca8hd','4c8hb6ek5a9gd7j4f6bm8c5ai7e4dh9b6kc5g8a4fj7e6bd9c5','ksGErkfc6ak6d9gb4e7mh5c8a6jd4f9bk5e7ci6a4gh8d5bl9c6'];
const wave1987 = ['Buokfc5b8e4gi7c9k6a5hd8l4b7fj6c9ahkpuzsmhd7d5ig8c4a','8d5ak7f4c9hb6m5e8ia4d7ghkmuEPFwpkfc6a9hd5c7lg4b8e6a','6c9f4bj8e5hkmuBLCupkfc5mi6a9e4fc7jd5b8ha4kg6c9e5bl7','a5e8j4c7gb6k9d5fi4a8mc6e7hb4d9ja5hkmuCxpkfc6b4gi7e5','7g9b6e8a5d7c9ehkprmhd96a4c8b5e7a6d9c5b8a4e7c6a5b3a','4685a3967b5c8374a6958b3a7496c5847a3968b5a7394c6857','5796a4857b3c9465a7848b5a6397c4858a3967b6a5483c7958','6a4b8c5a7d6b9c5a8e6c4b7a9d5c8f6bhd9e6a8gc5b9hkmhd96','a5e8j4c7gb6k9d5fi4a8mc6e7hb4d9ja5c8fk6b4gi7e5ca8hd','4c8hb6ek5a9gd7j4f6bhkpuqkfc7e4dh9b6kc5g8a4fj7e6bd9c','7b4fi8c5ak6d9gbfsmhd8a6jd4f9bk5e7ci6a4gh8d5bl9c6a5e','5b8e4gi7c9k6a5hd8l4b7fj6c9a4emb7d5ig8c4a6kh9bhkpw'];
const wave1988 = ['rkfc5ak7f4c9hb6m5e8hkmpwrkfc5jb8e4kf6a9hd5c7lg4b8e6','6c9f4bj8e5ah7dk4c8gb5mi6a9e4fc7jd5b8ha4hksmhd6c9e5b','a5e8j4c7gb6k9d5fi4a8mc6e7hb4d9ja5c8fk6b4gi7e5ca8hd','96e8a5c7hkmpuvtmhOEumhd5c8fk6b4gi7e5ca8hd4a6b4a8c5','8pd96a4c8b5e7a6d9c5b8a4e7c6a5b3a8c6b4a9c5a7b3a6c4a','3958a4b7695c3a8476b5939a6847c5a3968b4a7596c3847a596','4a6958b3c7a4968b5a3794c6a5867b4a3958c5a7694b3a8567c','5a4869b3a7c5948a6b3cd5c4a6857b5a3968c4a7596bhd9c6a8','4c8hb6ek5a9gd7j4f6bm8c5ai7e4dh9b6kc5g8a4fj7e6bd9c5','7b4fi8c5ahqkfc9gb4e7mh5c8a6jd4f9bk5e7ci6a4gh8d5bl9c6','5b8e4gi7c9k6a5hd8l4b7fj6c9a4emb7d5ig8c4a6kh9b5e7jc','8d5aqkfc9hb6m5e8ia4d7gc5jb8e4kf6a9hd5c7lg4b8e6ai9'];
const wave1989 = ['6c9f4bj8e5ah7dk4c8gb5mi6a9e4hctmhd5b8ha4kg6c9e5bl7d','a5e8j4c7gb6k9d5fi4a8mc6e7hb4d9ja5hkmrvHAupkfc6b4gi7','4c8hb6eacfmGwpkfc7j4f6bm8c5ai7e4dh9b6kc5g8a4fj7e6bd','b9hc6e8a5d7g9b6e8bdnhd96a4c8b5e7a6d9c5b8a4e7c6a5b3a','8c6b4a9c5a7b3a6c4a8b5d7a4c9a6b3a7c5a8b4d6a9c3a5b7a','6384a5967b4a3858c5a6947b3a5869c4a7385b6a4967c3a5848','5796a4857b3c9465a7848b5a6397c4858a3967b6a5483c7958','6a4b8c5a7d6b9c5a8e6c4b7a9d5c8f6b4a7d9c5hkmhd96e8a5','7b4fi8c5ak6d9gb4e7mh5c8a6jd4f9bk5e7ci6a4gh8d5bl9c6','5b8e4gi7c9k6a5hd8hkpuqkfc9a4emb7d5ig8c4a6kh9b5e7jc','8d5ak7f4c9hb6m5e8ihkpsmhd5jb8e4kf6a9hd5c7lg4b8e6ai9','6c9f4bj8e5ah7hkuDKEwpkfc6a9e4fc7jd5b8hkuDHuokfc9e5b'];
const waveYears = [[1981, wave1981],[1982, wave1982],[1983, wave1983],[1984, wave1984],[1985, wave1985],[1986, wave1986],[1987, wave1987],[1988, wave1988],[1989, wave1989]];

// ---------- decode the wave record into [year, metres] ----------
const measuredWaves = [];
waveYears.forEach(([year, months]) => {
  months.forEach((readings, m) => {
    for (let i = 0; i < readings.length; i++) {
      const ch = readings[i];
      if (ch === '.') continue;
      const t = year + (m + (i + 0.5) / readings.length) / 12;
      measuredWaves.push([+t.toFixed(4), WAVE_CODES.indexOf(ch) / 10]);
    }
  });
});
const criticalLine = [[measuredWaves[0][0], criticalHeight], [1990, criticalHeight]];

// ---------- styling ----------
const FONT = 'Liberation Sans, Arial, Helvetica, sans-serif';
const AX = '#262626';
const GRID_LINE = 'rgba(38,38,38,0.15)';
const BAR_START = 1981.07;
const CLEAR = 'rgba(0,0,0,0)';

const panels = [
  { title: 'Total bar volume', top: 35, height: 150, xMin: BAR_START, xTicks: barYearTicks, yMax: 250, yTicks: volumeTicks250, yName: 'Volume [m{sup|3}]', nameGap: 50 },
  { title: 'Inner bar', top: 267, height: 151, xMin: BAR_START, xTicks: barYearTicks, yMax: 150, yTicks: volumeTicks150, yName: 'Volume [m{sup|3}]', nameGap: 50 },
  { title: 'Outer bar', top: 500, height: 150, xMin: BAR_START, xTicks: barYearTicks, yMax: 150, yTicks: volumeTicks150, yName: 'Volume [m{sup|3}]', nameGap: 50 },
  { title: 'Wave climate', top: 732, height: 150, xMin: 1981, xTicks: waveYearTicks, yMax: 7, yTicks: waveTicks, yName: 'Wave height [m]', nameGap: 27 }
];

const grid = [], xAxis = [], yAxis = [], title = [];
panels.forEach((p, i) => {
  grid.push({ left: 104, width: 1351, top: p.top, height: p.height, containLabel: false });
  title.push({ text: p.title, left: 779.5, textAlign: 'center', top: p.top - 27, padding: 0,
    textStyle: { fontFamily: FONT, fontSize: 26, fontWeight: 'bold', color: '#000' } });
  const tickStyle = { lineStyle: { color: AX, width: 1 } };
  xAxis.push({
    gridIndex: i, type: 'value', position: 'bottom', min: p.xMin, max: 1990, z: 1.5,
    axisLine: { show: true, onZero: false, lineStyle: { color: AX, width: 1 } },
    axisTick: Object.assign({ show: true, inside: true, length: 7, customValues: p.xTicks }, tickStyle),
    axisLabel: { show: true, customValues: p.xTicks, showMinLabel: true, showMaxLabel: true, margin: 14,
      fontFamily: FONT, fontSize: 22, color: AX, formatter: v => String(Math.round(v)) },
    splitLine: { show: true, lineStyle: { color: GRID_LINE, width: 1 } }
  });
  xAxis.push({
    gridIndex: i, type: 'value', position: 'top', min: p.xMin, max: 1990, z: 1.5,
    axisLine: { show: true, onZero: false, lineStyle: { color: AX, width: 1 } },
    axisTick: Object.assign({ show: true, inside: true, length: 7, customValues: p.xTicks }, tickStyle),
    axisLabel: { show: false }, splitLine: { show: false }
  });
  yAxis.push({
    gridIndex: i, type: 'value', position: 'left', min: 0, max: p.yMax, z: 1.5,
    name: p.yName, nameLocation: 'middle', nameRotate: 90, nameGap: p.nameGap,
    nameTextStyle: { fontFamily: FONT, fontSize: 25.5, color: AX,
      rich: { sup: { fontFamily: FONT, fontSize: 16.5, color: AX, padding: [0, 0, 13, 0] } } },
    axisLine: { show: true, onZero: false, lineStyle: { color: AX, width: 1 } },
    axisTick: Object.assign({ show: true, inside: true, length: 13, customValues: p.yTicks }, tickStyle),
    axisLabel: { show: true, customValues: p.yTicks, margin: 8, fontFamily: FONT, fontSize: 22, color: AX },
    splitLine: { show: true, lineStyle: { color: GRID_LINE, width: 1 } }
  });
  yAxis.push({
    gridIndex: i, type: 'value', position: 'right', min: 0, max: p.yMax, z: 1.5,
    axisLine: { show: true, onZero: false, lineStyle: { color: AX, width: 1 } },
    axisTick: Object.assign({ show: true, inside: true, length: 13, customValues: p.yTicks }, tickStyle),
    axisLabel: { show: false }, splitLine: { show: false }
  });
});

const observedStyle = { color: '#ff0000', opacity: 1 };
const modeledStyle = { color: '#000000', width: 1 };
function volumeSeries(i, observed, modeled, extra) {
  const obs = { type: 'scatter', name: 'Observed', xAxisIndex: 2 * i, yAxisIndex: 2 * i, data: observed,
    symbol: 'circle', symbolSize: 7, itemStyle: observedStyle, z: 2, animation: false, progressive: 0 };
  const mod = Object.assign({ type: 'line', name: 'Modeled', xAxisIndex: 2 * i, yAxisIndex: 2 * i, data: modeled,
    symbol: 'none', showSymbol: false, itemStyle: { color: CLEAR }, lineStyle: modeledStyle, z: 3, animation: false }, extra || {});
  return [obs, mod];
}

const series = [
  ...volumeSeries(0, totalObserved, totalModeled, {
    markArea: { silent: true, z: 1, itemStyle: { opacity: 1 }, label: { show: false },
      data: [
        [{ xAxis: BAR_START, itemStyle: { color: '#ffffe0' } }, { xAxis: 1985 }],
        [{ xAxis: 1985, itemStyle: { color: '#e0ffff' } }, { xAxis: 1990 }]
      ] }
  }),
  ...volumeSeries(1, innerObserved, innerModeled),
  ...volumeSeries(2, outerObserved, outerModeled),
  { type: 'scatter', name: 'Measured', xAxisIndex: 6, yAxisIndex: 6, data: measuredWaves,
    symbol: 'circle', symbolSize: 3.5, itemStyle: { color: '#0000ff', opacity: 1 }, z: 2, animation: false, progressive: 0, large: false },
  { type: 'line', name: 'Hc', xAxisIndex: 6, yAxisIndex: 6, data: criticalLine,
    symbol: 'none', itemStyle: { color: CLEAR }, lineStyle: { color: '#ff0000', width: 1 }, z: 3, animation: false }
];

const legendBase = {
  orient: 'vertical', left: 1274, itemWidth: 57, itemGap: 6, selectedMode: false,
  borderColor: AX, borderWidth: 1, backgroundColor: '#ffffff', borderRadius: 0, z: 10,
  textStyle: { fontFamily: FONT, fontSize: 21, color: '#000',
    rich: { n: { fontFamily: FONT, fontSize: 21, color: '#000' }, s: { fontFamily: FONT, fontSize: 15, color: '#000', padding: [12, 0, 0, 0] } } }
};
const legend = [
  Object.assign({}, legendBase, { top: 4, itemHeight: 7, padding: [8, 7, 3, 7],
    data: ['Observed', { name: 'Modeled', itemStyle: { color: CLEAR } }] }),
  Object.assign({}, legendBase, { top: 702, itemHeight: 4, padding: [8, 7, 8, 7],
    data: ['Measured', { name: 'Hc', itemStyle: { color: CLEAR } }],
    formatter: name => name === 'Hc' ? '{n|H}{s|c}{n|=2 m}' : '{n|' + name + '}' })
];

const chart = echarts.init(document.getElementById('chart'), null, { renderer: 'canvas', width: 1501, height: 916 });
chart.setOption({
  animation: false,
  backgroundColor: '#ffffff',
  textStyle: { fontFamily: FONT },
  title, grid, xAxis, yAxis, legend, series
});
</script>
</body>
</html>
